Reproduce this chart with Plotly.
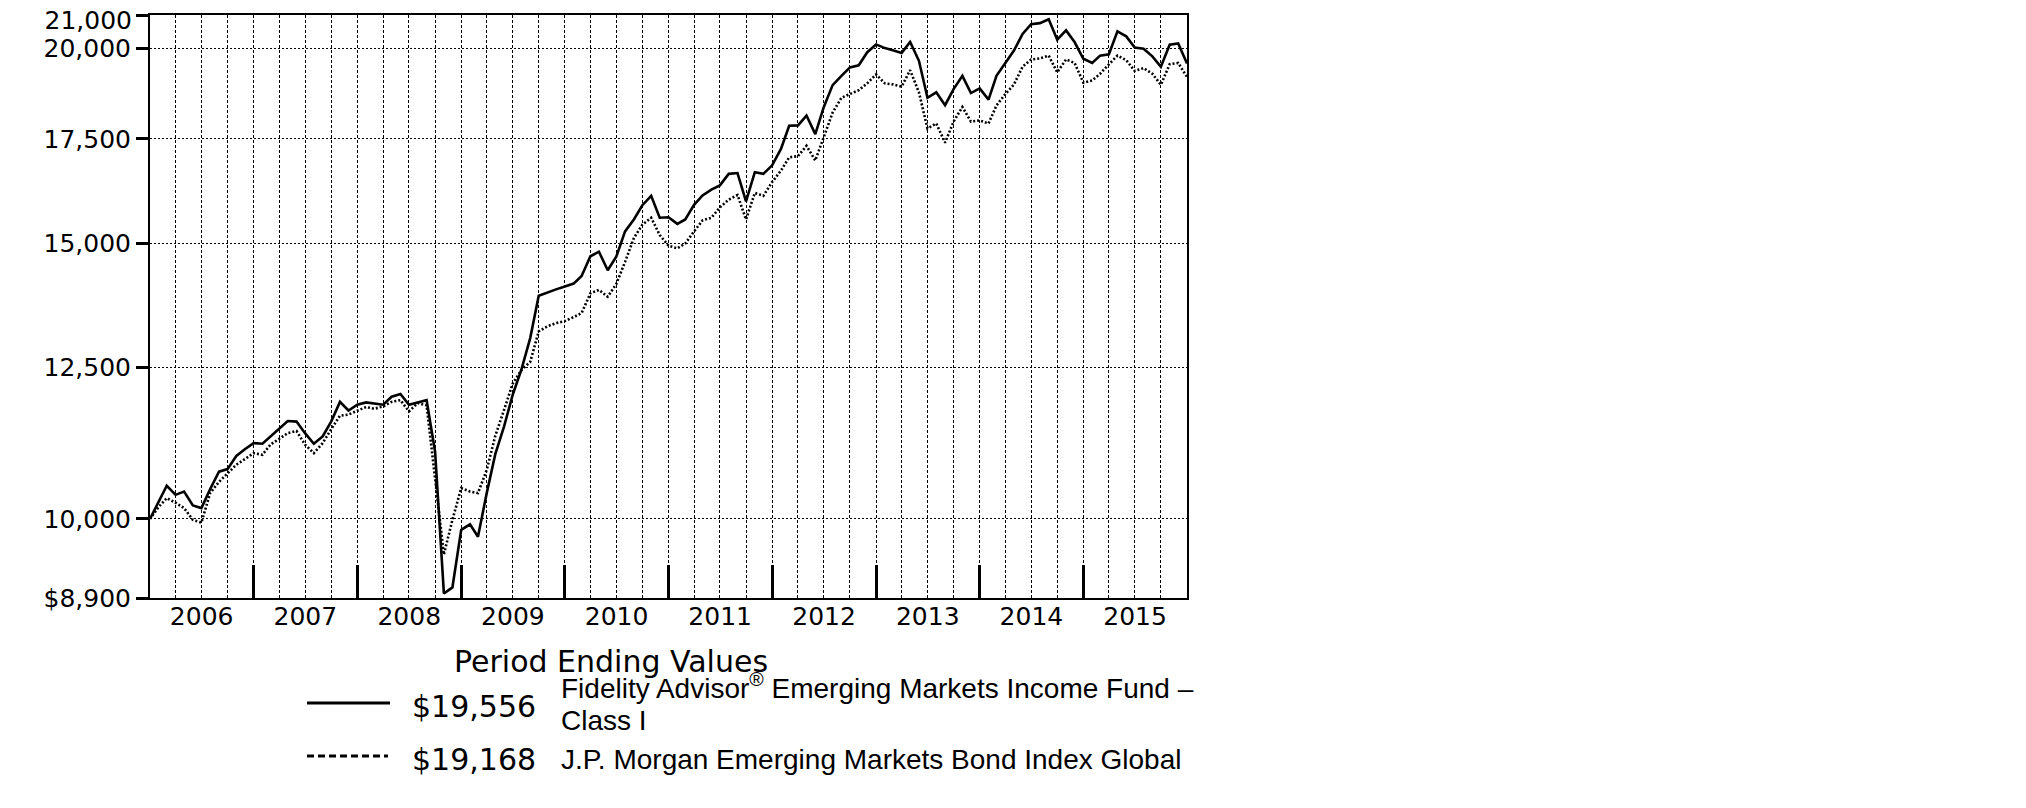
import math
import pandas as pd
import plotly.graph_objects as go

# ---------------- data ----------------
periods = pd.date_range("2005-12-31", "2015-12-31", freq="ME").strftime("%Y-%m-%d").tolist()

fund_values = [
    10000, 10250, 10500, 10360, 10410, 10200, 10160, 10450, 10720, 10760, 10970, 11080,
    11180, 11170, 11290, 11430, 11550, 11540, 11345, 11170, 11290, 11540, 11880, 11730,
    11830, 11870, 11850, 11830, 11970, 12020, 11830, 11870, 11910, 11040, 8960, 9040,
    9840, 9920, 9740, 10390, 11000, 11460, 12000, 12460, 13050, 13890, 13960, 14020,
    14080, 14140, 14300, 14720, 14820, 14420, 14710, 15270, 15540, 15870, 16090, 15580,
    15590, 15440, 15540, 15880, 16100, 16240, 16340, 16620, 16640, 15960, 16660, 16620,
    16830, 17240, 17840, 17850, 18110, 17620, 18340, 18940, 19200, 19440, 19500, 19880,
    20110, 20000, 19940, 19860, 20180, 19630, 18590, 18740, 18390, 18830, 19200, 18720,
    18850, 18540, 19200, 19550, 19920, 20420, 20720, 20750, 20870, 20250, 20530, 20180,
    19690, 19570, 19780, 19820, 20500, 20350, 20020, 19980, 19760, 19460, 20100, 20140,
    19556,
]

index_values = [
    10000, 10180, 10310, 10240, 10160, 9985, 9945, 10390, 10560, 10700, 10830, 10920,
    11016, 10990, 11155, 11250, 11345, 11380, 11155, 11016, 11180, 11410, 11640, 11660,
    11731, 11790, 11760, 11800, 11880, 11910, 11715, 11860, 11820, 10600, 9490, 9985,
    10463, 10410, 10387, 10750, 11300, 11742, 12200, 12450, 12600, 13180, 13280, 13340,
    13380, 13460, 13540, 13940, 14010, 13870, 14130, 14600, 15120, 15420, 15580, 15190,
    14950, 14895, 15000, 15270, 15520, 15580, 15820, 16000, 16110, 15540, 16160, 16090,
    16420, 16700, 17030, 17060, 17320, 16950, 17550, 18190, 18590, 18700, 18800, 18990,
    19240, 18990, 18960, 18900, 19360, 18740, 17770, 17900, 17400, 17950, 18340, 17950,
    17980, 17900, 18380, 18690, 18950, 19460, 19670, 19700, 19780, 19300, 19670, 19570,
    19010, 19070, 19260, 19530, 19780, 19650, 19340, 19420, 19260, 18950, 19530, 19570,
    19168,
]

y_tick_values = [8900, 10000, 12500, 15000, 17500, 20000, 21000]
y_tick_labels = ["$8,900", "10,000", "12,500", "15,000", "17,500", "20,000", ""]
y_top_value = [21000]
y_top_label = ["21,000"]

year_labels = ["2006", "2007", "2008", "2009", "2010", "2011", "2012", "2013", "2014", "2015"]
year_label_dates = ["%s-07-01" % y for y in year_labels]
year_end_dates = ["%d-12-31" % y for y in range(2005, 2015)]
quarter_end_dates = pd.date_range("2005-12-31", "2015-12-31", freq="QE").strftime("%Y-%m-%d").tolist()

fund_name = "Fidelity Advisor<sup>®</sup> Emerging Markets Income Fund –"
fund_name2 = "Class I"
index_name = "J.P. Morgan Emerging Markets Bond Index Global"
fund_end_label = "$19,556"
index_end_label = "$19,168"
legend_title = "Period Ending Values"

# ---------------- layout geometry (page pixels) ----------------
PAGE_W, PAGE_H = 2026, 808
OFF = 8  # default body margin of the html page
W, H = PAGE_W - 2 * OFF, PAGE_H - 2 * OFF
L, R, T, B = 150, 1187, 15, 598  # plot area in page pixels


def px(xp):
    return (xp - L) / (R - L)


def py(yp):
    return (B - yp) / (B - T)


fig = go.Figure()

fig.add_trace(go.Scatter(
    x=periods, y=index_values, mode="lines", name=index_name,
    line=dict(color="black", width=2.6, dash="2px,2px"), showlegend=False,
))
fig.add_trace(go.Scatter(
    x=periods, y=fund_values, mode="lines", name="Fidelity Advisor Emerging Markets Income Fund – Class I",
    line=dict(color="black", width=2.6), showlegend=False,
))

tick_font = dict(family="DejaVu Sans, Verdana, sans-serif", size=25, color="black")
y_range = [math.log10(8900), math.log10(21000)]

fig.update_layout(
    width=W, height=H,
    margin=dict(l=L - OFF, r=PAGE_W - OFF - R, t=T - OFF, b=PAGE_H - OFF - B, pad=0, autoexpand=False),
    paper_bgcolor="white", plot_bgcolor="white",
    showlegend=False,
    xaxis=dict(
        type="date", automargin=False,
        range=[periods[0], periods[-1]],
        tickmode="array", tickvals=year_label_dates, ticktext=year_labels,
        ticks="", showgrid=False, ticklabelstandoff=-5,
        tickfont=tick_font,
        showline=True, linecolor="black", linewidth=2, mirror=True,
        zeroline=False,
        minor=dict(tickmode="array", tickvals=quarter_end_dates, showgrid=True,
                   gridcolor="black", gridwidth=1, griddash="3px,2px", ticks=""),
    ),
    xaxis2=dict(
        type="date", overlaying="x", matches="x", anchor="y", side="bottom", automargin=False,
        range=[periods[0], periods[-1]],
        tickmode="array", tickvals=year_end_dates,
        ticks="inside", ticklen=33, tickwidth=3, tickcolor="black",
        showticklabels=False, showgrid=False, showline=False, zeroline=False,
    ),
    yaxis=dict(
        type="log", automargin=False,
        range=y_range,
        tickmode="array", tickvals=y_tick_values, ticktext=y_tick_labels,
        ticks="outside", ticklen=12, tickwidth=3, tickcolor="black",
        tickfont=tick_font,
        showgrid=True, gridcolor="black", gridwidth=1, griddash="2px,2px",
        showline=True, linecolor="black", linewidth=2, mirror=True,
        zeroline=False,
    ),
    yaxis2=dict(
        type="log", automargin=False, overlaying="y", matches="y", anchor="x", side="left",
        range=y_range, ticklabeloverflow="allow", ticklabelshift=5,
        tickmode="array", tickvals=y_top_value, ticktext=y_top_label,
        ticks="outside", ticklen=12, tickwidth=0, tickcolor="rgba(0,0,0,0)",
        tickfont=tick_font,
        showgrid=False, showline=False, zeroline=False,
    ),
)

# invisible traces so that the helper axes are drawn
fig.add_trace(go.Scatter(x=[periods[0]], y=[fund_values[0]], xaxis="x2", mode="markers",
                         marker=dict(opacity=0), hoverinfo="skip", showlegend=False))
fig.add_trace(go.Scatter(x=[periods[0]], y=[fund_values[0]], yaxis="y2", mode="markers",
                         marker=dict(opacity=0), hoverinfo="skip", showlegend=False))

# ---------------- legend block ----------------
sans = "DejaVu Sans, Verdana, sans-serif"
arial = "Liberation Sans, Arial, sans-serif"

annos = [
    dict(text=legend_title, x=px(452), y=py(661), font=dict(family=sans, size=30, color="black")),
    dict(text=fund_end_label, x=px(410), y=py(706), font=dict(family=sans, size=30, color="black")),
    dict(text=index_end_label, x=px(410), y=py(759), font=dict(family=sans, size=30, color="black")),
    dict(text=fund_name, x=px(559), y=py(686), font=dict(family=arial, size=28, color="black")),
    dict(text=fund_name2, x=px(559), y=py(720), font=dict(family=arial, size=28, color="black")),
    dict(text=index_name, x=px(559), y=py(759), font=dict(family=arial, size=28, color="black")),
]
for a in annos:
    fig.add_annotation(xref="paper", yref="paper", xanchor="left", yanchor="middle",
                       showarrow=False, **a)

fig.add_shape(type="line", xref="paper", yref="paper", x0=px(307), x1=px(390), y0=py(703), y1=py(703),
              line=dict(color="black", width=3))
fig.add_shape(type="line", xref="paper", yref="paper", x0=px(307), x1=px(388), y0=py(756), y1=py(756),
              line=dict(color="black", width=3, dash="7px,4px"))

fig.write_html("out.html")
